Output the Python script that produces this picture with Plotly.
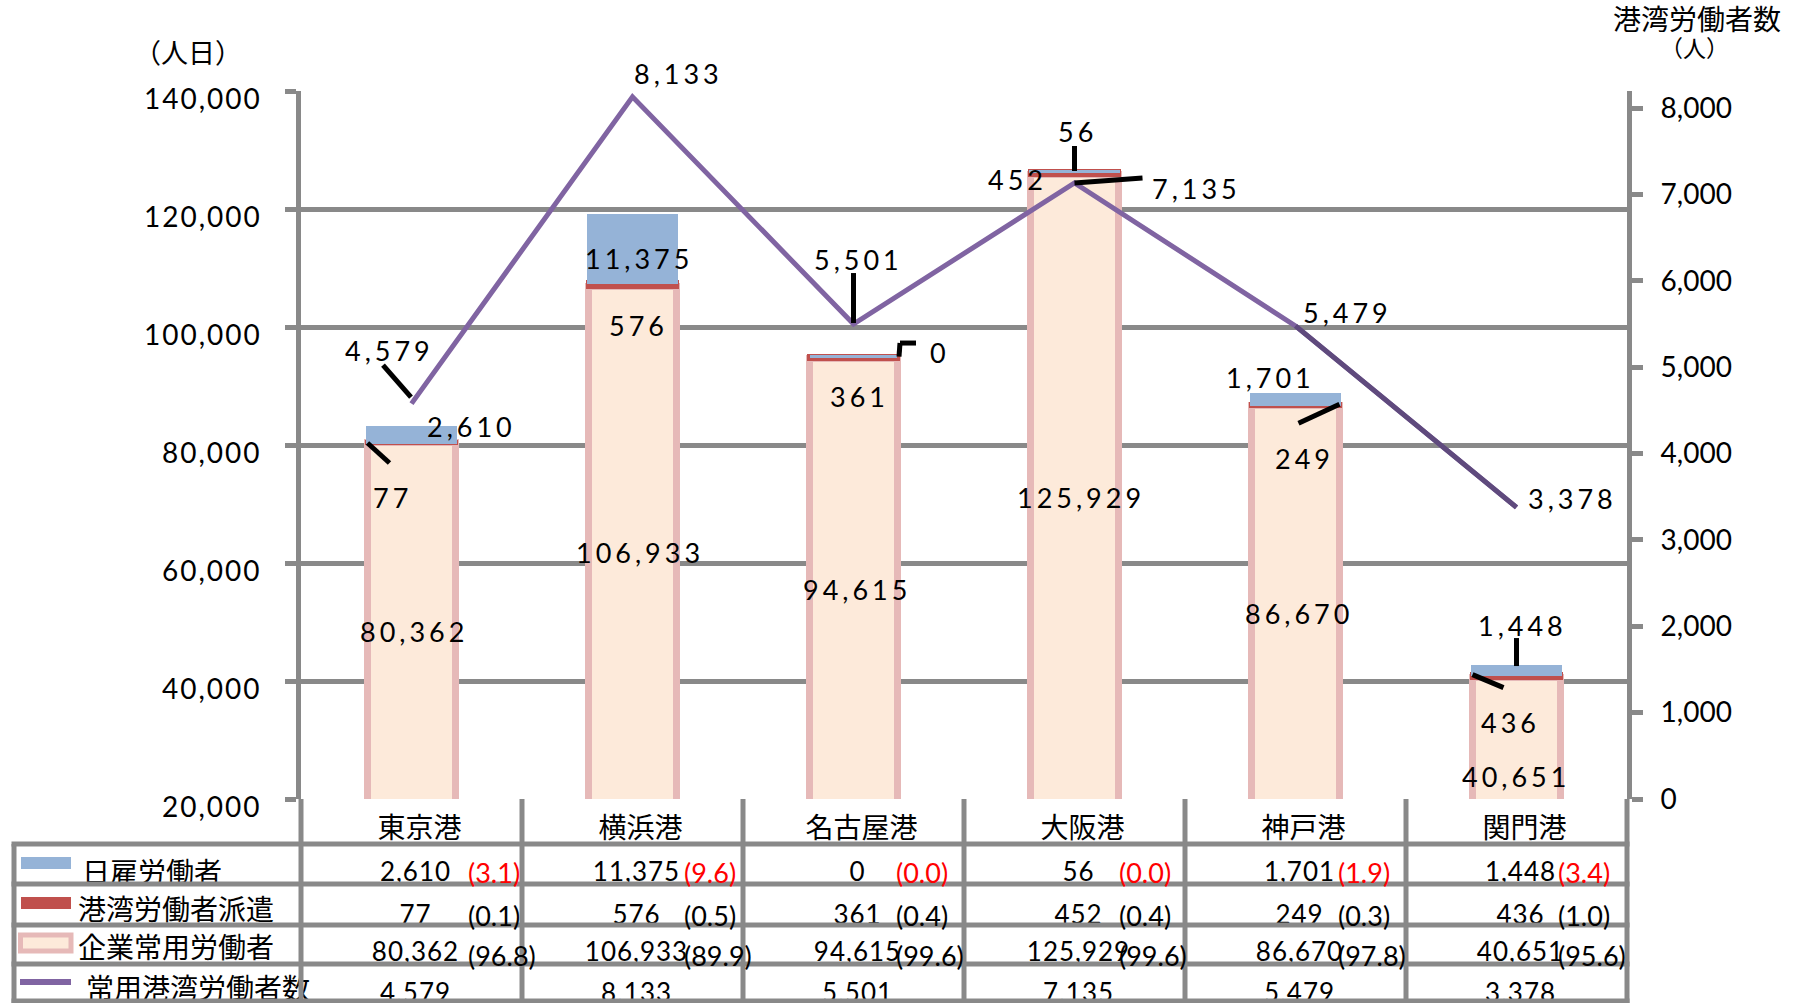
import plotly.graph_objects as go

# ---------------- data ----------------
CATEGORIES = ["東京港", "横浜港", "名古屋港", "大阪港", "神戸港", "関門港"]
DAY_LABOR = [2610, 11375, 0, 56, 1701, 1448]            # 日雇労働者
DISPATCH = [77, 576, 361, 452, 249, 436]                # 港湾労働者派遣
REGULAR = [80362, 106933, 94615, 125929, 86670, 40651]  # 企業常用労働者
PORT_WORKERS = [4579, 8133, 5501, 7135, 5479, 3378]     # 常用港湾労働者数
SERIES_NAMES = ["日雇労働者", "港湾労働者派遣", "企業常用労働者", "常用港湾労働者数"]
LEFT_TICKS = [20000, 40000, 60000, 80000, 100000, 120000, 140000]
RIGHT_TICKS = [0, 1000, 2000, 3000, 4000, 5000, 6000, 7000, 8000]
LEFT_UNIT = "（人日）"
RIGHT_TITLE = "港湾労働者数"
RIGHT_UNIT = "（人）"

TOTALS = [a + b + c for a, b, c in zip(REGULAR, DISPATCH, DAY_LABOR)]
RED_TOP = [a + b for a, b in zip(REGULAR, DISPATCH)]

# ---------------- layout constants ----------------
W, H = 1802, 1003
PL, PR, PT, PB = 301, 1627, 91, 799
Y_MIN, Y_MAX, Y2_MAX = 20000, 140000, 8200
GRID = "#898989"
BLUE, RED = "#95B3D7", "#C0504D"
PINK_FILL, PINK_LINE = "#FDEADA", "#E6B9B8"
PURPLE, PURPLE_DARK = "#8064A2", "#5F4A7D"
NUM_FONT = "Lato, 'Open Sans', sans-serif"
JP_FONT = "'Noto Sans CJK JP', sans-serif"


def fmt(v):
    return f"{v:,}"


def spaced(t, px):
    return f'<span style="letter-spacing:{px}px">{t}</span>'


def pct(v, t):
    return f"({v / t * 100:.1f})"


fig = go.Figure()

# stacked bars
fig.add_trace(go.Bar(x=CATEGORIES, y=REGULAR, name=SERIES_NAMES[2], width=0.395,
                     marker=dict(color=PINK_FILL, line=dict(color=PINK_LINE, width=7))))
fig.add_trace(go.Bar(x=CATEGORIES, y=DISPATCH, name=SERIES_NAMES[1], width=0.395,
                     marker=dict(color=RED, line=dict(color=RED, width=5))))
fig.add_trace(go.Bar(x=CATEGORIES, y=DAY_LABOR, name=SERIES_NAMES[0], width=0.395,
                     marker=dict(color=BLUE, line=dict(color=BLUE, width=3))))
# line on right axis
fig.add_trace(go.Scatter(x=CATEGORIES, y=PORT_WORKERS, yaxis="y2", mode="lines",
                         name=SERIES_NAMES[3], line=dict(color=PURPLE, width=5)))
fig.add_trace(go.Scatter(x=CATEGORIES[4:], y=PORT_WORKERS[4:], yaxis="y2", mode="lines",
                         showlegend=False, line=dict(color=PURPLE_DARK, width=5)))

annotations = []
shapes = []

# ---------------- data labels ----------------
BLUE_OFF = [(60, 1), (6, -43), (86, 4), (3, 40), (-25, 17), (6, 41)]
RED_OFF = [(-19, -55), (6, -43), (6, -40), (-57, -8), (9, -54), (-6, -48)]
PINK_OFF = [(2, -11), (7, -10), (3, -11), (6, -11), (3, -11), (-1, -38)]
LINE_OFF = [(-22, 53), (46, 23), (5, 65), (122, -6), (52, 13), (56, 9)]


def label(i, yval, text, off, yref="y"):
    annotations.append(dict(x=i, y=yval, xref="x", yref=yref, text=spaced(text, 4),
                            showarrow=False, xshift=off[0], yshift=off[1],
                            xanchor="center", yanchor="middle",
                            font=dict(family=NUM_FONT, size=27, color="black")))


for i in range(len(CATEGORIES)):
    label(i, TOTALS[i], fmt(DAY_LABOR[i]), BLUE_OFF[i])
    label(i, RED_TOP[i], fmt(DISPATCH[i]), RED_OFF[i])
    label(i, (Y_MIN + REGULAR[i]) / 2, fmt(REGULAR[i]), PINK_OFF[i])
    label(i, PORT_WORKERS[i], fmt(PORT_WORKERS[i]), LINE_OFF[i], yref="y2")

# left-axis tick labels (sit slightly below their gridlines, as in the original)
for v in LEFT_TICKS:
    annotations.append(dict(x=(PL - 37) / W, y=v, xref="paper", yref="y", yshift=-7,
                            text=spaced(fmt(v), 2), showarrow=False, xanchor="right",
                            yanchor="middle",
                            font=dict(family=NUM_FONT, size=28, color="black")))

# leader lines (pixel offsets from data anchors)
LEADERS = [
    ("line", 0, [(-28.5, 38.6, -0.5, 6.6)]),
    ("red", 0, [(-44, -0.6, -22, -20.6)]),
    ("line", 2, [(0, 51, 0, 1)]),
    ("total", 2, [(45.5, 0, 46.5, 13.6), (46.5, 13.6, 62.5, 13.6)]),
    ("total", 3, [(0, 0, 0, 25)]),
    ("line", 3, [(0, 0, 68, 5)]),
    ("red", 4, [(44, 0, 3, -19)]),
    ("total", 5, [(0, 0, 0, 28)]),
    ("red", 5, [(-44, 0, -13, -13)]),
]
for kind, i, segs in LEADERS:
    if kind == "line":
        yv, yr = PORT_WORKERS[i], "y2"
    elif kind == "red":
        yv, yr = RED_TOP[i], "y"
    else:
        yv, yr = TOTALS[i], "y"
    for x0, y0, x1, y1 in segs:
        shapes.append(dict(type="line", xref="x", yref=yr, xsizemode="pixel", ysizemode="pixel",
                           xanchor=i, yanchor=yv, x0=x0, y0=y0, x1=x1, y1=y1,
                           line=dict(color="black", width=5), layer="above"))

# ---------------- table below the chart ----------------
COL_EDGES = [PL + k * (PR - PL) / 6 for k in range(7)]
COL_CENTERS = [(COL_EDGES[k] + COL_EDGES[k + 1]) / 2 for k in range(6)]
ROW_LINES = [844, 884, 925, 964, 1001]
TABLE_LEFT = 14
gl = dict(color=GRID, width=5)
for yy in ROW_LINES:
    shapes.append(dict(type="line", xref="x3", yref="y3", x0=TABLE_LEFT - 2.5, x1=PR + 2.5,
                       y0=yy, y1=yy, line=gl, layer="above"))
shapes.append(dict(type="line", xref="x3", yref="y3", x0=TABLE_LEFT, x1=TABLE_LEFT,
                   y0=ROW_LINES[0], y1=H, line=gl, layer="above"))
for xx in COL_EDGES:
    shapes.append(dict(type="line", xref="x3", yref="y3", x0=xx, x1=xx, y0=PB, y1=H,
                       line=gl, layer="above"))

# legend swatches
shapes.append(dict(type="rect", xref="x3", yref="y3", x0=21, x1=71, y0=857, y1=869,
                   fillcolor=BLUE, line=dict(width=0), layer="above"))
shapes.append(dict(type="rect", xref="x3", yref="y3", x0=21, x1=71, y0=897, y1=909,
                   fillcolor=RED, line=dict(width=0), layer="above"))
shapes.append(dict(type="rect", xref="x3", yref="y3", x0=20.5, x1=71, y0=935, y1=951,
                   fillcolor=PINK_FILL, line=dict(color=PINK_LINE, width=5), layer="above"))
shapes.append(dict(type="line", xref="x3", yref="y3", x0=20, x1=71, y0=982, y1=982,
                   line=dict(color=PURPLE, width=6), layer="above"))

VALUE_ROWS_Y = [874, 917, 954, 995]
LEGEND_ROWS_Y = [876, 913, 951, 992]
LEGEND_X = [82, 78, 78, 86]
rows = [DAY_LABOR, DISPATCH, REGULAR, PORT_WORKERS]

# category labels
fig.add_trace(go.Scatter(x=[c + 8 for c in COL_CENTERS], y=[831] * 6, xaxis="x3", yaxis="y3",
                         mode="text", text=CATEGORIES, textposition="middle center",
                         textfont=dict(family=JP_FONT, size=28, color="black"),
                         hoverinfo="skip", showlegend=False))
# legend labels
fig.add_trace(go.Scatter(x=LEGEND_X, y=LEGEND_ROWS_Y, xaxis="x3", yaxis="y3",
                         mode="text", text=SERIES_NAMES, textposition="middle right",
                         textfont=dict(family=JP_FONT, size=28, color="black"),
                         hoverinfo="skip", showlegend=False))
# values
vx, vy, vt = [], [], []
for r, vals in enumerate(rows):
    for k, v in enumerate(vals):
        vx.append(COL_CENTERS[k] + 4)
        vy.append(VALUE_ROWS_Y[r])
        vt.append(spaced(fmt(v), 1))
fig.add_trace(go.Scatter(x=vx, y=vy, xaxis="x3", yaxis="y3", mode="text", text=vt,
                         textposition="middle center",
                         textfont=dict(family=NUM_FONT, size=26, color="black"),
                         hoverinfo="skip", showlegend=False))

# percentages
PCT_DX = [54, 49, 40, 42, 40, 39]
PCT_ROWS_Y = [872, 915, 955]
for r, vals in enumerate(rows[:3]):
    for k, v in enumerate(vals):
        annotations.append(dict(x=COL_CENTERS[k] + PCT_DX[k], y=PCT_ROWS_Y[r], xref="x3", yref="y3",
                                text=pct(v, TOTALS[k]), showarrow=False, xanchor="left",
                                yanchor="middle",
                                font=dict(family=NUM_FONT, size=27,
                                          color="#FF0000" if r == 0 else "black")))

# axis titles
annotations.append(dict(x=188, y=51, xref="x3", yref="y3", text=LEFT_UNIT, showarrow=False,
                        font=dict(family=JP_FONT, size=27, color="black")))
annotations.append(dict(x=1697, y=18, xref="x3", yref="y3", text=RIGHT_TITLE, showarrow=False,
                        font=dict(family=JP_FONT, size=28, color="black")))
annotations.append(dict(x=1694, y=47, xref="x3", yref="y3", text=RIGHT_UNIT, showarrow=False,
                        font=dict(family=JP_FONT, size=23, color="black")))

fig.update_layout(
    template="none",
    width=W, height=H, margin=dict(l=0, r=0, t=0, b=0, pad=0), autosize=False,
    paper_bgcolor="white", plot_bgcolor="rgba(0,0,0,0)",
    barmode="stack", showlegend=False,
    xaxis=dict(domain=[PL / W, PR / W], type="category", range=[-0.5, 5.5],
               showticklabels=False, showgrid=False, zeroline=False, showline=False,
               ticks="", anchor="y", automargin=False),
    yaxis=dict(domain=[1 - PB / H, 1 - PT / H], range=[Y_MIN, Y_MAX], tickvals=LEFT_TICKS,
               showticklabels=False,
               showgrid=True, gridcolor=GRID, gridwidth=5, zeroline=False,
               ticks="outside", ticklen=11, tickwidth=5, tickcolor=GRID,
               showline=True, linewidth=5, linecolor=GRID, anchor="x",
               automargin=False),
    yaxis2=dict(overlaying="y", side="right", anchor="x", range=[0, Y2_MAX],
                tickvals=RIGHT_TICKS, ticktext=[fmt(v) for v in RIGHT_TICKS],
                showgrid=False, zeroline=False, ticks="outside", ticklen=11, tickwidth=5,
                tickcolor=GRID, showline=True, linewidth=5, linecolor=GRID,
                ticklabelstandoff=12, tickfont=dict(family=NUM_FONT, size=28, color="black"),
                automargin=False),
    xaxis3=dict(domain=[0, 1], range=[0, W], visible=False, anchor="y3", fixedrange=True,
                automargin=False),
    yaxis3=dict(domain=[0, 1], range=[H, 0], visible=False, anchor="x3", fixedrange=True,
                automargin=False),
    annotations=annotations, shapes=shapes,
)

fig.write_html("out.html", config={"displayModeBar": False},
               post_script="document.body.style.margin='0';document.body.style.overflow='hidden';")
